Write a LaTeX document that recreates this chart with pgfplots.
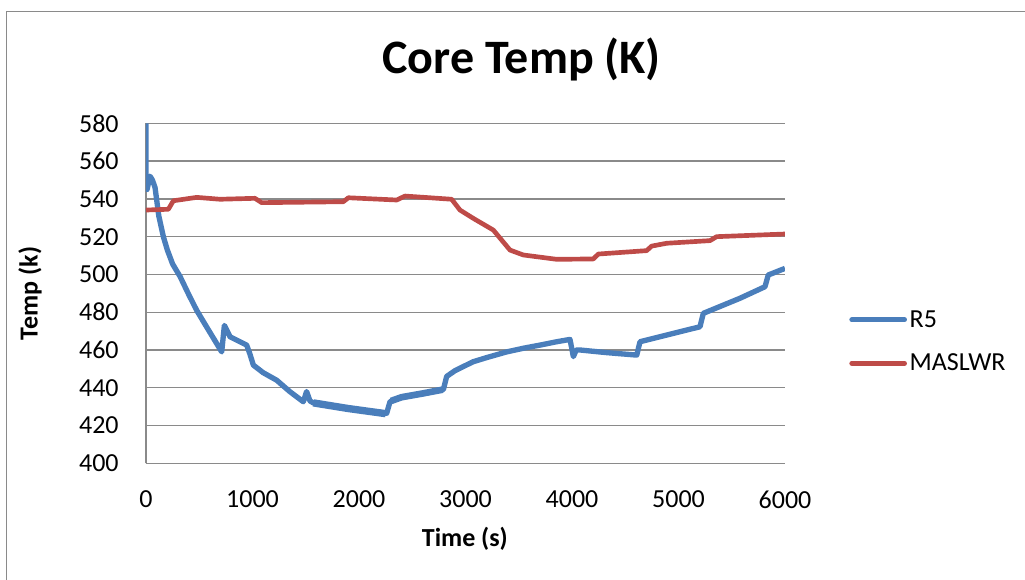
\documentclass[border=0pt]{standalone}
\usepackage{pgfplots}
\pgfplotsset{compat=1.18}
\usepackage{fontspec}
\setmainfont{Carlito}
\definecolor{rfive}{HTML}{4A7EBB}
\definecolor{masl}{HTML}{BE4B48}
\definecolor{gridc}{HTML}{8A8A8A}
\begin{document}
\begin{tikzpicture}
\path[use as bounding box] (0,0) rectangle (768.75pt,435pt);
\draw[color=gridc, line width=1pt] (5pt,-10pt) -- (5pt,426.2pt) -- (790pt,426.2pt);
\begin{axis}[
  at={(109.5pt,87.5pt)}, anchor=south west,
  scale only axis, width=479.25pt, height=255pt,
  xmin=0, xmax=6000, ymin=400, ymax=580,
  xtick={0,1000,...,6000}, ytick={400,420,...,580},
  axis x line*=bottom, axis y line*=left,
  axis line style={gridc, line width=1pt, -},
  major tick length=0pt,
  ymajorgrids, grid style={gridc, line width=1pt},
  tick label style={font=\fontsize{19.5}{23}\selectfont},
  /pgf/number format/assume math mode=true,
  /pgf/number format/set thousands separator={},
  xticklabel style={yshift=-17pt},
  yticklabel style={xshift=-17pt},
  xlabel={Time (s)}, ylabel={Temp (k)},
  label style={font=\fontsize{19.5}{23}\selectfont\bfseries},
  xlabel style={at={(axis description cs:0.499,-0.223)}, anchor=center},
  ylabel style={at={(axis description cs:-0.1815,0.5)}, anchor=center, rotate=0},
  title={Core Temp (K)},
  title style={font=\fontsize{36}{42}\selectfont\bfseries, at={(axis description cs:0.588,1.163)}, anchor=center},
  legend style={at={(axis description cs:1.094,0.358)}, anchor=west, draw=none, fill=none,
    font=\fontsize{19.5}{23}\selectfont, row sep=14.5pt},
  legend cell align=left,
  legend image code/.code={\draw[#1, line width=3.75pt, line cap=round] (0,0) -- (39.5pt,0);},
]
\addplot[rfive, line width=4pt, line join=round] coordinates {
(0,580) (0,547) (10,545) (38,552) (60,550) (85,546) (120,531) (163,520) (200,513)
(250,505.5) (319,499) (400,489.5) (476,481) (550,474) (620,467.5) (711,459)
(736,473) (789,467) (945,462.6)
(975,458) (1008,452) (1100,448) (1227,444) (1350,438) (1477,432.6) (1508,438)
(1540,433) (1571,432) (1900,429) (2260,426.5) (2291,432.6) (2400,435) (2600,437)
(2792,439) (2823,446) (2900,449) (3000,451.8) (3073,453.8) (3200,456) (3387,459)
(3550,461) (3700,462.6) (3850,464.3) (3981,465.6)
(4013,456.5) (4040,460) (4075,460) (4326,458.6) (4608,457.3) (4639,464.4)
(4952,468.8) (5202,472.3) (5233,479.4) (5578,487.4) (5812,493.5) (5843,499.7) (6000,503.2)
};
\addlegendentry{R5}
\addplot[rfive, line width=5.5pt, forget plot] coordinates {
(1571,432) (1900,429) (2250,426.3)
};
\addplot[rfive, line width=5pt, forget plot] coordinates {
(2300,433) (2400,435) (2600,437) (2785,439)
};
\addplot[masl, line width=3.5pt, line join=round] coordinates {
(0,534.1) (210,534.5) (257,539) (476,540.8) (695,539.8) (1023,540.3) (1086,538)
(1853,538.5) (1900,540.6) (2354,539.4) (2432,541.5) (2870,539.8) (2948,534.1)
(3073,529.7) (3261,523.5) (3418,512.9) (3543,510.3) (3857,508) (4200,508.2)
(4247,510.8) (4701,512.6) (4748,515) (4889,516.5) (5296,517.9) (5358,520) (6000,521.4)
};
\addlegendentry{MASLWR}
\end{axis}
\end{tikzpicture}
\end{document}
